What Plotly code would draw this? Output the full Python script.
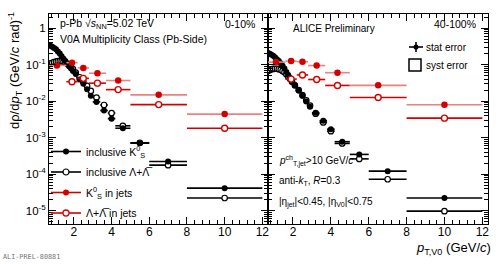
import plotly.graph_objects as go

# ---------------- data ----------------
incl_pt = [0.65, 0.75, 0.85, 0.95, 1.05, 1.15, 1.25, 1.35, 1.45, 1.55, 1.65, 1.75, 1.85, 1.95,
           2.1, 2.3, 2.5, 2.7, 2.9, 3.2, 3.6, 4.0, 4.6, 5.5, 7.0, 10.0]
incl_hw = [0.05, 0.05, 0.05, 0.05, 0.05, 0.05, 0.05, 0.05, 0.05, 0.05, 0.05, 0.05, 0.05, 0.05,
           0.1, 0.1, 0.1, 0.1, 0.1, 0.2, 0.2, 0.2, 0.4, 0.5, 1.0, 2.0]

# 0-10 %
k0s_incl_c0 = [0.35, 0.33, 0.31, 0.285, 0.262, 0.23, 0.20, 0.17, 0.145, 0.125, 0.107, 0.090, 0.078, 0.067,
               0.055, 0.039, 0.030, 0.021, 0.0140, 0.0095, 0.0055, 0.0033, 0.0018, 7.0e-4, 2.2e-4, 4.1e-5]
lam_incl_c0 = [0.100, 0.107, 0.112, 0.117, 0.121, 0.124, 0.125, 0.124, 0.120, 0.114, 0.105, 0.095, 0.085, 0.075,
               0.060, 0.045, 0.034, 0.026, 0.019, 0.0125, 0.0078, 0.0047, 0.0021, 7.2e-4, 1.75e-4, 2.2e-5]
# 40-100 %
k0s_incl_c40 = [0.215, 0.200, 0.190, 0.175, 0.160, 0.140, 0.125, 0.108, 0.093, 0.078, 0.063, 0.052, 0.043, 0.035,
                0.027, 0.0195, 0.014, 0.0098, 0.0070, 0.0048, 0.0029, 0.0017, 7.7e-4, 3.45e-4, 1.2e-4, 2.2e-5]
lam_incl_c40 = [0.066, 0.070, 0.074, 0.076, 0.077, 0.077, 0.075, 0.072, 0.067, 0.062, 0.054, 0.046, 0.040, 0.034,
                0.027, 0.020, 0.0145, 0.0105, 0.0075, 0.0045, 0.0026, 0.0015, 6.9e-4, 2.6e-4, 7.2e-5, 9.6e-6]

jet_pt_k0s = [1.1, 1.9, 2.5, 3.25, 4.35, 6.5, 10.0]
jet_hw_k0s = [0.5, 0.3, 0.3, 0.45, 0.65, 1.5, 2.0]
jet_pt_lam = [1.9, 2.5, 3.25, 4.35, 6.5, 10.0]
jet_hw_lam = [0.3, 0.3, 0.45, 0.65, 1.5, 2.0]

k0s_jet_c0 = [0.095, 0.113, 0.081, 0.058, 0.0366, 0.0148, 0.0044]
lam_jet_c0 = [0.034, 0.042, 0.031, 0.0206, 0.0080, 0.0018]
k0s_jet_c40 = [0.117, 0.125, 0.120, 0.094, 0.060, 0.027, 0.0079]
lam_jet_c40 = [0.040, 0.052, 0.039, 0.0268, 0.0125, 0.0034]

y_tickvals = [1e-5, 1e-4, 1e-3, 1e-2, 1e-1, 1]
y_ticktext = ["10<sup>-5</sup>", "10<sup>-4</sup>", "10<sup>-3</sup>", "10<sup>-2</sup>", "10<sup>-1</sup>", "1"]
x_tickvals = [2, 4, 6, 8, 10, 12]
x_ticktext = ["2", "4", "6", "8", "10", "12"]

legend_labels = ["inclusive K<sup>0</sup><sub>S</sub>", "inclusive Λ+Λ̅",
                 "K<sup>0</sup><sub>S</sub> in jets", "Λ+Λ̅ in jets"]

# ---------------- style ----------------
FONT = "Liberation Sans, Arial, sans-serif"
RED = "#d40000"
LRED = "#ee8080"
W, H = 498, 264
ML, MR, MT, MB = 49, 10, 14, 40
PW, PH = W - ML - MR, H - MT - MB


def xp(px):
    return (px - ML) / PW


def yp(py):
    return (MT + PH - py) / PH


split = xp(268)
XR = [0.68, 12.3]
YR = [-5.37, 0.387]

fig = go.Figure()


def series(x, y, hw, ax, mline, mfill, barcolor, size=6, lw=1.3):
    xa, ya = ("x", "y") if ax == 1 else ("x2", "y2")
    fig.add_trace(go.Scatter(
        x=x, y=y, mode="markers", xaxis=xa, yaxis=ya, showlegend=False,
        error_x=dict(type="data", array=hw, color=barcolor, thickness=1.6, width=0),
        marker=dict(symbol="circle", size=size, color=mfill, line=dict(color=mline, width=lw)),
        hoverinfo="skip"))


for ax, (k_i, l_i, k_j, l_j) in zip(
        [1, 2],
        [(k0s_incl_c0, lam_incl_c0, k0s_jet_c0, lam_jet_c0),
         (k0s_incl_c40, lam_incl_c40, k0s_jet_c40, lam_jet_c40)]):
    series(incl_pt, l_i, incl_hw, ax, "black", "white", "black", size=5.5, lw=1.2)
    series(incl_pt, k_i, incl_hw, ax, "black", "black", "black", size=6, lw=0)
    series(jet_pt_lam, l_j, jet_hw_lam, ax, RED, "white", RED, size=6, lw=1.4)
    series(jet_pt_k0s, k_j, jet_hw_k0s, ax, RED, RED, LRED, size=6.5, lw=0)

# legend entries (keys only)
leg_styles = [("black", "black", 0), ("black", "white", 1.2), (RED, RED, 0), (RED, "white", 1.3)]
for i, (lab, (lc, fc, lw)) in enumerate(zip(legend_labels, leg_styles)):
    fig.add_trace(go.Scatter(
        x=[None], y=[None], mode="lines+markers", name=lab, legendgroup=f"g{i}",
        line=dict(color=lc, width=1.6),
        marker=dict(symbol="circle", size=6, color=fc, line=dict(color=lc, width=lw)),
        xaxis="x", yaxis="y"))

# minor ticks
y_minor = []
for e in range(-6, 1):
    for m in range(2, 10):
        y_minor.append(m * 10 ** e)

common_x = dict(range=XR, tickvals=x_tickvals, ticktext=x_ticktext, ticks="inside", ticklen=7,
                tickwidth=1, tickcolor="black", showline=True, linecolor="black", linewidth=1,
                mirror="ticks", showgrid=False, zeroline=False, ticklabelstandoff=-3,
                tickfont=dict(family=FONT, size=12, color="black"),
                minor=dict(dtick=0.4, tick0=0, ticks="inside", ticklen=4, tickcolor="black", showgrid=False))
common_y = dict(type="log", range=YR, tickvals=y_tickvals, ticktext=y_ticktext, ticks="inside",
                ticklen=7, tickwidth=1, tickcolor="black", showline=True, linecolor="black",
                linewidth=1, mirror="ticks", showgrid=False, zeroline=False,
                tickfont=dict(family=FONT, size=11.5, color="black"),
                minor=dict(tickvals=y_minor, ticks="inside", ticklen=4, tickcolor="black", showgrid=False))

fig.update_layout(
    width=W, height=H, margin=dict(l=ML, r=MR, t=MT, b=MB),
    paper_bgcolor="white", plot_bgcolor="white",
    font=dict(family=FONT, color="black", size=11),
    xaxis=dict(domain=[0, split], anchor="y", **common_x),
    xaxis2=dict(domain=[split, 1], anchor="y2", **common_x),
    yaxis=dict(domain=[0, 1], anchor="x", **common_y),
    yaxis2=dict(domain=[0, 1], anchor="x2", showticklabels=False,
                **{k: v for k, v in common_y.items() if k not in ("tickfont",)}),
    legend=dict(x=xp(46), y=yp(137), xanchor="left", yanchor="top", bgcolor="rgba(0,0,0,0)",
                borderwidth=0, font=dict(family=FONT, size=10.5, color="black"),
                tracegroupgap=1.5, itemwidth=30, traceorder="grouped"),
    showlegend=True,
)

ann = []


def text(s, x, y, xanchor="left", size=10.5, **kw):
    ann.append(dict(text=s, x=x, y=y, xref="paper", yref="paper", xanchor=xanchor, yanchor="middle",
                    showarrow=False, font=dict(family=kw.pop("family", FONT), size=size,
                                               color=kw.pop("color", "black")), **kw))


text("p-Pb √<i>s</i><sub>NN</sub>=5.02 TeV", xp(58), yp(24))
text("V0A Multiplicity Class (Pb-Side)", xp(58), yp(39))
text("0-10%", xp(257), yp(24), xanchor="right")
text("ALICE Preliminary", xp(291), yp(29), size=10)
text("40-100%", xp(478), yp(24), xanchor="right")
text("stat error", xp(424), yp(47), size=10)
text("syst error", xp(424), yp(65), size=10)
text("<i>p</i><sup>ch</sup><sub>T,jet</sub>&gt;10 GeV/<i>c</i>", xp(277), yp(161), size=10)
text("anti-<i>k</i><sub>T</sub>, <i>R</i>=0.3", xp(277), yp(181), size=10)
text("|η<sub>jet</sub>|&lt;0.45, |η<sub>V0</sub>|&lt;0.75", xp(277), yp(202), size=10)
text("<i>p</i><sub>T,V0</sub> (GeV/<i>c</i>)", xp(493), yp(248), xanchor="right", size=13)
text("dρ/d<i>p</i><sub>T</sub> (GeV/<i>c</i> rad)<sup>-1</sup>", xp(15), yp(71), xanchor="center",
     size=13, textangle=-90)
text("ALI-PREL-80881", xp(1), yp(257), size=6.8, family="DejaVu Sans Mono", color="#777777")
fig.update_layout(annotations=ann)

# key symbols for stat / syst errors (right panel)
shapes = [
    dict(type="line", xref="paper", yref="paper", x0=xp(409), x1=xp(423), y0=yp(47), y1=yp(47),
         line=dict(color="black", width=1.6)),
    dict(type="line", xref="paper", yref="paper", x0=xp(416), x1=xp(416), y0=yp(42), y1=yp(52),
         line=dict(color="black", width=1.6)),
    dict(type="circle", xref="paper", yref="paper", x0=xp(413.5), x1=xp(418.5), y0=yp(44.5), y1=yp(49.5),
         fillcolor="black", line=dict(color="black", width=0)),
    dict(type="rect", xref="paper", yref="paper", x0=xp(409), x1=xp(421), y0=yp(59), y1=yp(71),
         line=dict(color="black", width=1.5), fillcolor="rgba(0,0,0,0)"),
]
fig.update_layout(shapes=shapes)

fig.write_html("out.html", config={"displayModeBar": False},
               post_script="document.body.style.margin='0px';")
